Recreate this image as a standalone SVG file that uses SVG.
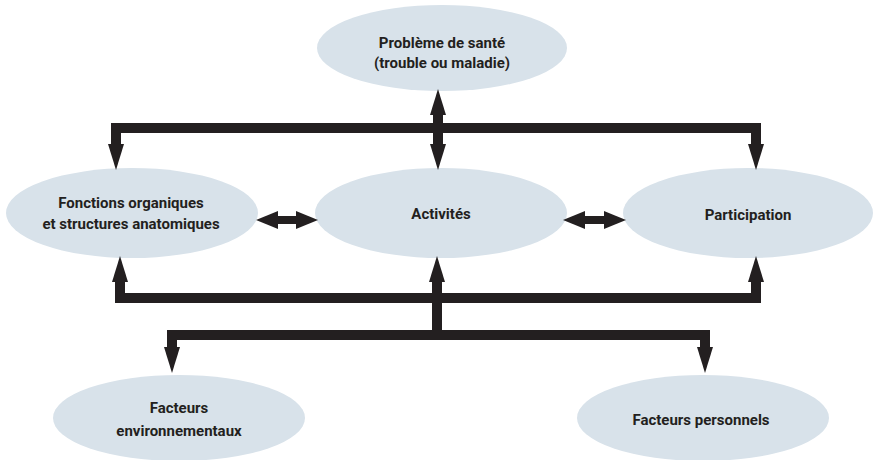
<svg xmlns="http://www.w3.org/2000/svg" xmlns:xlink="http://www.w3.org/1999/xlink" width="873" height="460" viewBox="0 0 873 460">
<style>
.node ellipse{fill:#d8e2ea;}
.node text{font-family:Roboto,"Liberation Sans",sans-serif;font-weight:bold;font-size:15px;fill:#231f20;text-anchor:middle;}
.line{fill:none;stroke:#231f20;stroke-width:10;stroke-linejoin:miter;stroke-linecap:butt;}
.thin{fill:none;stroke:#231f20;stroke-width:8;}
.head{fill:#231f20;}
</style>
<defs>
<path id="hd" d="M0,0 L-8,-26 L8,-26 Z"/>
<path id="hh" d="M0,0 L-22,-9 L-22,9 Z"/>
</defs>
<rect width="873" height="460" fill="#ffffff"/>
<g id="nodes">
<g id="probleme" class="node"><ellipse cx="442" cy="48" rx="125" ry="43"/><text x="442" y="48">Problème de santé</text><text x="442" y="68">(trouble ou maladie)</text></g>
<g id="fonctions" class="node"><ellipse cx="132" cy="213" rx="126" ry="45"/><text x="131" y="208">Fonctions organiques</text><text x="131" y="229">et structures anatomiques</text></g>
<g id="activites" class="node"><ellipse cx="441" cy="213" rx="126" ry="45"/><text x="441" y="219">Activités</text></g>
<g id="participation" class="node"><ellipse cx="748" cy="213" rx="125" ry="45"/><text x="748" y="220">Participation</text></g>
<g id="env" class="node"><ellipse cx="179" cy="418" rx="126" ry="43"/><text x="179" y="413">Facteurs</text><text x="179" y="436">environnementaux</text></g>
<g id="perso" class="node"><ellipse cx="703" cy="418" rx="126" ry="43"/><text x="701" y="425">Facteurs personnels</text></g>
</g>
<g id="connectors">
<path class="line" d="M116,146 V128 H756 V146"/>
<path class="line" d="M438,113 V146"/>
<use href="#hd" class="head" transform="translate(438,89) rotate(180)"/>
<use href="#hd" class="head" transform="translate(438,170)"/>
<use href="#hd" class="head" transform="translate(116,170)"/>
<use href="#hd" class="head" transform="translate(756,170)"/>
<path class="line" d="M120,280 V298 H756 V280"/>
<path class="line" d="M437,280 V335"/>
<use href="#hd" class="head" transform="translate(120,256) rotate(180)"/>
<use href="#hd" class="head" transform="translate(437,256) rotate(180)"/>
<use href="#hd" class="head" transform="translate(756,256) rotate(180)"/>
<path class="line" d="M172,349 V335 H705 V349"/>
<use href="#hd" class="head" transform="translate(172,373)"/>
<use href="#hd" class="head" transform="translate(705,373)"/>
<path class="thin" d="M276,220 H298"/>
<use href="#hh" class="head" transform="translate(318,220)"/>
<use href="#hh" class="head" transform="translate(256,220) rotate(180)"/>
<path class="thin" d="M583,220 H606"/>
<use href="#hh" class="head" transform="translate(626,220)"/>
<use href="#hh" class="head" transform="translate(563,220) rotate(180)"/>
</g>
</svg>
